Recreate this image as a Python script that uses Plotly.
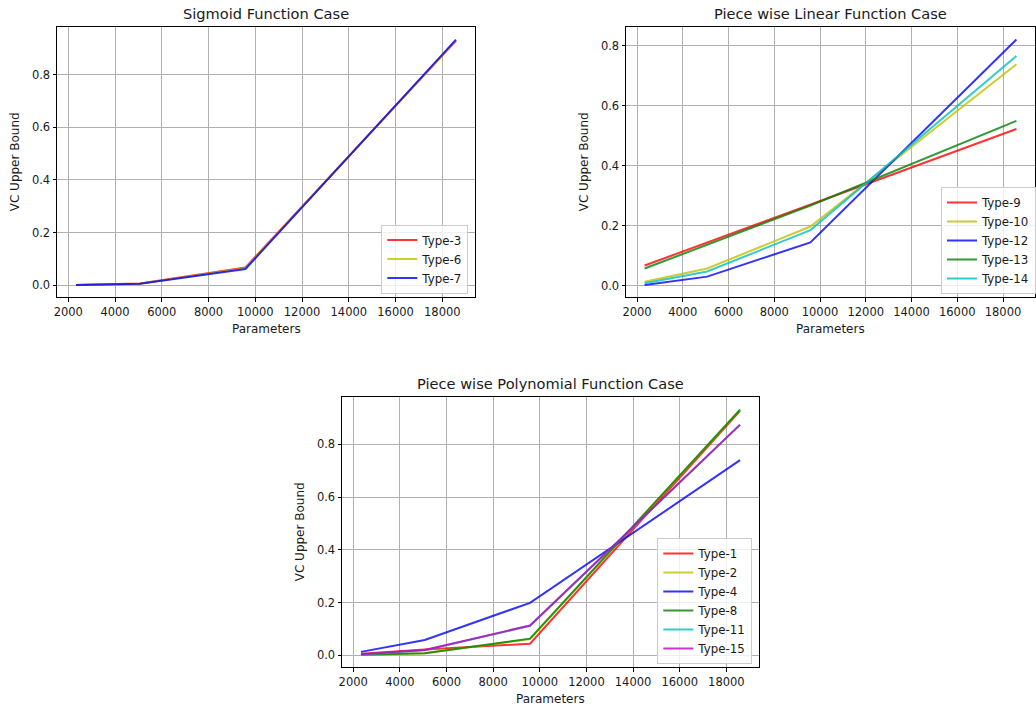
import plotly.graph_objects as go

# ---------------- data ----------------
parameters = [2330, 5066, 9580, 18586]

# Sigmoid Function Case
sig_type3 = [0.001, 0.007, 0.068, 0.928]
sig_type6 = [0.001, 0.006, 0.065, 0.930]
sig_type7 = [0.001, 0.006, 0.062, 0.933]

# Piece wise Linear Function Case
lin_type9 = [0.068, 0.145, 0.272, 0.523]
lin_type10 = [0.014, 0.058, 0.198, 0.739]
lin_type12 = [0.003, 0.031, 0.145, 0.821]
lin_type13 = [0.058, 0.138, 0.268, 0.550]
lin_type14 = [0.009, 0.048, 0.186, 0.766]

# Piece wise Polynomial Function Case
poly_type1 = [0.006, 0.022, 0.044, 0.927]
poly_type2 = [0.001, 0.008, 0.062, 0.931]
poly_type4 = [0.013, 0.058, 0.199, 0.740]
poly_type8 = [0.002, 0.008, 0.063, 0.932]
poly_type11 = [0.003, 0.019, 0.112, 0.874]
poly_type15 = [0.004, 0.020, 0.113, 0.875]

x_ticks = [2000, 4000, 6000, 8000, 10000, 12000, 14000, 16000, 18000]
y_ticks = [0.0, 0.2, 0.4, 0.6, 0.8]

# ---------------- style ----------------
W, H = 1036, 709
FONT = "DejaVu Sans"
TXT = "#1a1a1a"
COL = {
    "r": "rgba(255,0,0,0.8)",
    "y": "rgba(191,191,0,0.8)",
    "b": "rgba(0,0,255,0.8)",
    "g": "rgba(0,128,0,0.8)",
    "c": "rgba(0,191,191,0.8)",
    "m": "rgba(191,0,191,0.8)",
}
LW = 2

panels = [
    dict(title="Sigmoid Function Case", ax="", legend="legend",
         series=[("Type-3", sig_type3, "r"), ("Type-6", sig_type6, "y"), ("Type-7", sig_type7, "b")],
         px=(57, 475), py=(27.3, 297.3)),
    dict(title="Piece wise Linear Function Case", ax="2", legend="legend2",
         series=[("Type-9", lin_type9, "r"), ("Type-10", lin_type10, "y"), ("Type-12", lin_type12, "b"),
                 ("Type-13", lin_type13, "g"), ("Type-14", lin_type14, "c")],
         px=(626, 1035), py=(27.3, 297.3)),
    dict(title="Piece wise Polynomial Function Case", ax="3", legend="legend3",
         series=[("Type-1", poly_type1, "r"), ("Type-2", poly_type2, "y"), ("Type-4", poly_type4, "b"),
                 ("Type-8", poly_type8, "g"), ("Type-11", poly_type11, "c"), ("Type-15", poly_type15, "m")],
         px=(342, 759), py=(397.3, 667.3)),
]

fig = go.Figure()
layout = dict(
    width=W, height=H,
    margin=dict(l=0, r=0, t=0, b=0),
    paper_bgcolor="white", plot_bgcolor="white",
    font=dict(family=FONT, size=11.5, color=TXT),
    annotations=[],
)


def padded(vals):
    lo, hi = min(vals), max(vals)
    s = hi - lo
    return [lo - 0.05 * s, hi + 0.05 * s]


for p in panels:
    ax = p["ax"]
    xa, ya = "x" + ax, "y" + ax
    allv = []
    for name, vals, c in p["series"]:
        allv += vals
        fig.add_trace(go.Scatter(
            x=parameters, y=vals, mode="lines", name=name,
            line=dict(color=COL[c], width=LW),
            xaxis=xa, yaxis=ya, legend=p["legend"],
        ))
    axis_common = dict(
        showline=True, linecolor="black", linewidth=1, mirror=True,
        ticks="outside", ticklen=3.5, tickwidth=1, tickcolor="black",
        showgrid=True, gridcolor="#b0b0b0", gridwidth=0.8,
        zeroline=False, tickfont=dict(family=FONT, size=11.5, color=TXT),
        automargin=False,
    )
    layout["xaxis" + ax] = dict(
        axis_common,
        domain=[p["px"][0] / W, p["px"][1] / W],
        anchor=ya, range=padded(parameters),
        tickvals=x_ticks, tickformat="d",
    )
    layout["yaxis" + ax] = dict(
        axis_common,
        domain=[1 - p["py"][1] / H, 1 - p["py"][0] / H],
        anchor=xa, range=padded(allv),
        tickvals=y_ticks, tickformat=".1f",
    )
    xd, yd = xa + " domain", ya + " domain"
    layout["annotations"] += [
        dict(text=p["title"], xref=xd, yref=yd, x=0.5, y=1, xanchor="center", yanchor="middle",
             yshift=14, showarrow=False, font=dict(family=FONT, size=14.6, color=TXT)),
        dict(text="Parameters", xref=xd, yref=yd, x=0.5, y=0, xanchor="center", yanchor="middle",
             yshift=-32, showarrow=False, font=dict(family=FONT, size=12, color=TXT)),
        dict(text="VC Upper Bound", xref=xd, yref=yd, x=0, y=0.5, xanchor="center", yanchor="middle",
             xshift=-42, textangle=-90, showarrow=False, font=dict(family=FONT, size=12, color=TXT)),
    ]

legend_common = dict(
    bgcolor="rgba(255,255,255,0.8)", bordercolor="#cccccc", borderwidth=1,
    font=dict(family=FONT, size=11.8, color=TXT), xref="paper", yref="paper",
    traceorder="normal",
)
layout["legend"] = dict(legend_common, x=468.3 / W, y=1 - 293.5 / H, xanchor="right", yanchor="bottom")
layout["legend2"] = dict(legend_common, x=941 / W, y=1 - 294 / H, xanchor="left", yanchor="bottom")
layout["legend3"] = dict(legend_common, x=752.3 / W, y=1 - 664 / H, xanchor="right", yanchor="bottom")

fig.update_layout(**layout)
fig.write_html("out.html")
